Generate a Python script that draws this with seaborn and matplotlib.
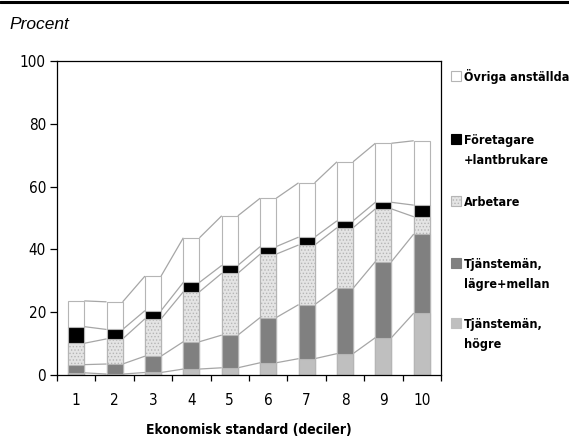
import numpy as np
import matplotlib
matplotlib.use("Agg")
import matplotlib.pyplot as plt
import seaborn as sns
from matplotlib.patches import Rectangle
from matplotlib.lines import Line2D

# ---- data (percent) ----
deciles = ["1", "2", "3", "4", "5", "6", "7", "8", "9", "10"]
hogre = [0.7, 0.3, 0.8, 1.9, 2.3, 3.9, 5.2, 6.8, 11.9, 19.7]
lagre_mellan = [2.6, 3.2, 5.2, 8.7, 10.4, 14.4, 17.2, 20.8, 24.2, 25.2]
arbetare = [6.8, 8.0, 11.9, 15.9, 19.7, 20.2, 19.0, 19.3, 16.8, 5.5]
foretagare = [5.3, 3.0, 2.6, 3.0, 2.5, 2.4, 2.5, 2.2, 2.1, 3.7]
ovriga = [8.2, 8.8, 11.0, 14.2, 15.8, 15.4, 17.3, 18.8, 18.8, 20.5]
y_ticks = [0, 20, 40, 60, 80, 100]
series_names = ["Tjänstemän,\nhögre", "Tjänstemän,\nlägre+mellan", "Arbetare",
                "Företagare\n+lantbrukare", "Övriga anställda"]
ylabel_text = "Procent"
xlabel_text = "Ekonomisk standard (deciler)"

sns.set_style("ticks")
plt.rcParams["font.family"] = ["DejaVu Sans"]
plt.rcParams["font.stretch"] = "condensed"
plt.rcParams["text.color"] = "black"
plt.rcParams["xtick.color"] = "black"
plt.rcParams["ytick.color"] = "black"
plt.rcParams["axes.labelcolor"] = "black"
plt.rcParams["hatch.linewidth"] = 0.6

W, H = 569, 441
fig = plt.figure(figsize=(W / 100, H / 100), dpi=100)
ax = fig.add_axes([57 / W, 1 - 375 / H, (441 - 57) / W, (375 - 61) / H])

layers = [hogre, lagre_mellan, arbetare, foretagare, ovriga]
colors = ["#bfbfbf", "#808080", "#e4e4e4", "#000000", "#ffffff"]
hatches = [None, None, ".....", None, None]
edge = "#b5b5b5"
cum = np.cumsum(np.array(layers), axis=0)
bw = 0.42

for k in range(len(layers) - 1, -1, -1):
    kw = {}
    if hatches[k]:
        kw["hatch"] = hatches[k]
    sns.barplot(x=deciles, y=cum[k], color=colors[k], saturation=1,
                width=bw, edgecolor=edge, linewidth=0.8, errorbar=None,
                ax=ax, zorder=2, **kw)

pos = np.arange(len(deciles))
for k in range(len(layers)):
    for i in range(len(deciles) - 1):
        ax.plot([pos[i] + bw / 2, pos[i + 1] - bw / 2], [cum[k][i], cum[k][i + 1]],
                color="#a6a6a6", lw=0.9, zorder=1, solid_capstyle="butt")

ax.set_xlim(-0.5, len(deciles) - 0.5)
ax.set_ylim(0, 100)
ax.set_yticks(y_ticks)
ax.set_yticklabels([str(v) for v in y_ticks], fontsize=11)
ax.set_xticks(np.arange(-0.5, len(deciles), 1))
ax.set_xticklabels([])
ax.set_xticks(pos, minor=True)
ax.set_xticklabels(deciles, minor=True, fontsize=11)
ax.tick_params(axis="x", which="major", length=4, width=0.9, direction="out")
ax.tick_params(axis="x", which="minor", length=0, pad=13)
ax.tick_params(axis="y", length=5, width=0.9, pad=3)
ax.set_xlabel(xlabel_text, fontsize=10, fontweight="bold", labelpad=11)
ax.set_ylabel("")
for s in ax.spines.values():
    s.set_visible(True)
    s.set_color("black")
    s.set_linewidth(0.9)

fig.add_artist(Line2D([0, 1], [1 - 1.5 / H, 1 - 1.5 / H], color="black", lw=2.2,
                      transform=fig.transFigure))
fig.text(9 / W, 1 - 29 / H, ylabel_text, fontsize=12.5, style="italic",
         family=["Liberation Sans", "DejaVu Sans"], stretch="normal",
         va="baseline", ha="left")

leg_items = [(4, 81), (3, 144), (2, 206), (1, 268), (0, 328)]
for idx, base in leg_items:
    r = Rectangle((451 / W, 1 - base / H), 10 / W, 10 / H, transform=fig.transFigure,
                  facecolor=colors[idx], edgecolor=edge if idx in (4, 2) else colors[idx],
                  lw=0.8, hatch=hatches[idx])
    fig.add_artist(r)
    for j, line in enumerate(series_names[idx].split("\n")):
        fig.text(464 / W, 1 - (base + 20 * j) / H, line, fontsize=9,
                 fontweight="bold", va="baseline", ha="left")

fig.savefig("out.png", dpi=100)
